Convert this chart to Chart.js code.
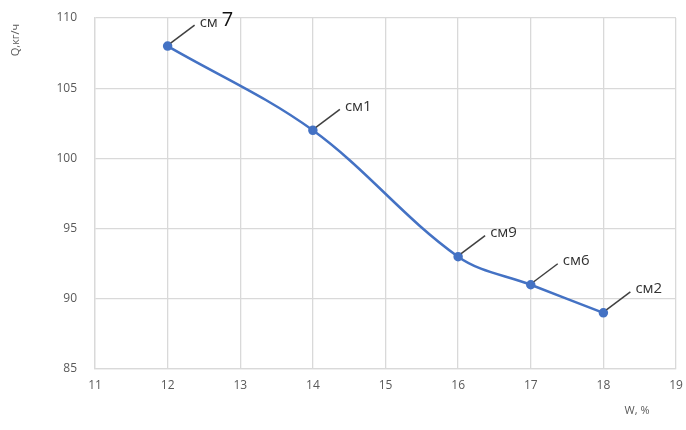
<!DOCTYPE html>
<html>
<head>
<meta charset="utf-8">
<script src="https://cdn.jsdelivr.net/npm/chart.js@4/dist/chart.umd.min.js"></script>
<style>
  html, body { margin: 0; padding: 0; background: #fff; }
  #wrap { width: 686px; height: 430px; }
</style>
</head>
<body>
<div id="wrap"><canvas id="qChart" width="686" height="430"></canvas></div>
<script>
// moisture W, % and productivity Q, kg/h for each mix
const moisture = [12, 14, 16, 17, 18];
const productivity = [108, 102, 93, 91, 89];
const mixLabels = ['см 7', 'см1', 'см9', 'см6', 'см2'];
const xTicks = [11, 12, 13, 14, 15, 16, 17, 18, 19];
const yTicks = [85, 90, 95, 100, 105, 110];

const FONT = "'Open Sans', 'Liberation Sans', sans-serif";

// leader lines + text next to each point, plus axis captions
const annotate = {
  id: 'annotate',
  afterDatasetsDraw(chart) {
    const ctx = chart.ctx;
    const meta = chart.getDatasetMeta(0);
    ctx.save();
    meta.data.forEach((pt, i) => {
      const x0 = pt.x + 3, y0 = pt.y - 3;
      const x1 = pt.x + 27, y1 = pt.y - 21;
      ctx.strokeStyle = '#404040';
      ctx.lineWidth = 1.5;
      ctx.beginPath();
      ctx.moveTo(x0, y0);
      ctx.lineTo(x1, y1);
      ctx.stroke();

      const txt = mixLabels[i];
      ctx.textBaseline = 'middle';
      ctx.textAlign = 'left';
      const parts = txt.split(' ');
      let tx = x1 + 5;
      const ty = y1 - 3;
      ctx.fillStyle = '#333';
      ctx.font = '15px ' + FONT;
      if (parts.length > 1) {
        ctx.fillText(parts[0] + ' ', tx, ty + 1);
        tx += ctx.measureText(parts[0] + ' ').width;
        ctx.fillStyle = '#111';
        ctx.font = '20px ' + FONT;
        ctx.fillText(parts[1], tx, ty - 2);
      } else {
        ctx.fillText(txt, tx, ty);
      }
    });

    // axis captions
    ctx.fillStyle = '#595959';
    ctx.font = '11px ' + FONT;
    ctx.textAlign = 'center';
    ctx.textBaseline = 'middle';
    ctx.fillText('W, %', 637, 411);
    ctx.translate(16, 40);
    ctx.rotate(-Math.PI / 2);
    ctx.fillText('Q,кг/ч', 0, 0);
    ctx.restore();
  }
};

new Chart(document.getElementById('qChart'), {
  type: 'line',
  data: {
    datasets: [{
      data: moisture.map((w, i) => ({ x: w, y: productivity[i] })),
      borderColor: '#4472C4',
      backgroundColor: '#4472C4',
      borderWidth: 2.5,
      pointRadius: 3.5,
      pointBackgroundColor: '#4472C4',
      pointBorderColor: '#4472C4',
      tension: 0.35,
      fill: false
    }]
  },
  options: {
    responsive: false,
    animation: false,
    layout: { padding: { left: 0, right: 10, top: 18, bottom: 0 } },
    plugins: {
      legend: { display: false },
      tooltip: { enabled: false }
    },
    scales: {
      x: {
        type: 'linear',
        min: xTicks[0],
        max: xTicks[xTicks.length - 1],
        afterBuildTicks: s => { s.ticks = xTicks.map(v => ({ value: v })); },
        afterFit: s => { s.height = 61; s.paddingLeft = 0; s.paddingRight = 0; },
        grid: { color: '#d9d9d9', lineWidth: 1.3, drawTicks: false },
        border: { color: '#d9d9d9', width: 1.3 },
        ticks: { color: '#595959', padding: 9, font: { family: FONT, size: 12 } }
      },
      y: {
        min: yTicks[0],
        max: yTicks[yTicks.length - 1],
        afterBuildTicks: s => { s.ticks = yTicks.map(v => ({ value: v })); },
        afterFit: s => { s.width = 95; s.paddingTop = 0; s.paddingBottom = 0; },
        grid: { color: '#d9d9d9', lineWidth: 1.3, drawTicks: false },
        border: { color: '#d9d9d9', width: 1.3 },
        ticks: { color: '#595959', padding: 18, font: { family: FONT, size: 12 } }
      }
    }
  },
  plugins: [annotate]
});
</script>
</body>
</html>
